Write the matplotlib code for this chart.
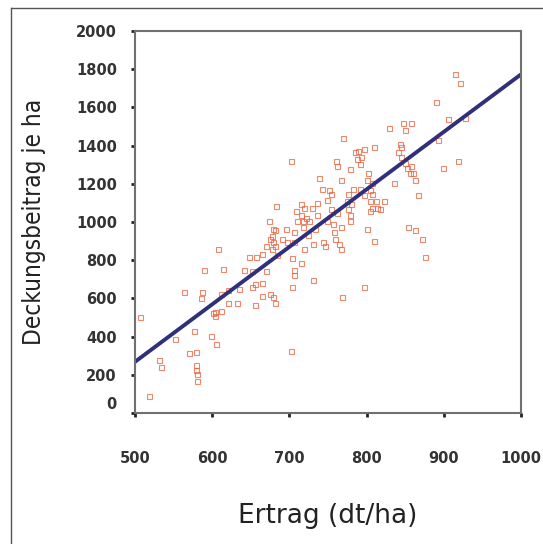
import matplotlib.pyplot as plt
import matplotlib.transforms as mtransforms
from matplotlib.lines import Line2D
import numpy as np

# Ertrag (dt/ha) and Deckungsbeitrag je ha
ertrag = [
    507, 518, 531, 534, 552, 563, 570, 579, 576, 579, 579, 580, 580, 587, 590,
    585, 599, 605, 601, 603, 611, 603, 607, 614, 611, 620, 620, 632, 635, 641,
    648, 655, 652, 652, 657, 664, 670, 665, 673, 675, 677, 679, 677, 681, 679,
    683, 675, 679, 681, 684, 681, 695, 697, 702, 702, 704, 706, 706, 704, 706,
    706, 708, 710, 715, 717, 719, 718, 722, 724, 715, 719, 726, 731, 731, 733,
    738, 736, 742, 744, 746, 749, 749, 751, 754, 756, 758, 760, 762, 759, 764,
    767, 767, 768, 769, 767, 774, 776, 778, 776, 779, 780, 782, 785, 787, 789,
    793, 796, 791, 796, 791, 800, 802, 805, 800, 807, 805, 807, 804, 812, 809,
    809, 814, 818, 823, 829, 836, 841, 843, 845, 847, 850, 852, 854, 858, 858,
    860, 863, 863, 867, 872, 876, 890, 892, 899, 906, 915, 921, 919, 928,
    691, 715, 729, 736, 754, 762, 778, 796, 807, 845, 850, 856, 655, 665, 670,
]
deckung = [
    504, 91, 277, 241, 386, 635, 314, 317, 431, 250, 227, 205, 169, 631, 749,
    600, 404, 359, 522, 531, 535, 508, 858, 754, 625, 644, 577, 577, 649, 749,
    818, 564, 662, 743, 818, 830, 745, 680, 1003, 912, 925, 894, 858, 872, 966,
    1084, 625, 607, 577, 825, 957, 966, 894, 1320, 323, 658, 749, 722, 812, 894,
    948, 1057, 1003, 1039, 1003, 1075, 975, 1021, 930, 785, 858, 1003, 885, 694, 966,
    1229, 1039, 1175, 894, 876, 1003, 1115, 1166, 1148, 988, 948, 1320, 1293, 912, 885,
    858, 975, 607, 1438, 1220, 1111, 1148, 1275, 1066, 1039, 1093, 1175, 1365, 1329, 1374,
    1338, 1383, 1302, 658, 1175, 1220, 1256, 1166, 966, 1148, 1111, 1075, 1057, 1111, 1392,
    898, 1075, 1066, 1111, 1492, 1202, 1365, 1410, 1338, 1519, 1483, 1284, 975, 1519, 1293,
    1256, 957, 1220, 1139, 912, 818, 1628, 1428, 1284, 1537, 1773, 1728, 1320, 1546,
    912, 1093, 1075, 1102, 1066, 1048, 1003, 1139, 1202, 1392, 1311, 1256, 676, 612, 876,
]

# regression line end points
line_x = [500, 1000]
line_y = [268, 1773]

x_ticks = [500, 600, 700, 800, 900, 1000]
y_ticks = [0, 200, 400, 600, 800, 1000, 1200, 1400, 1600, 1800, 2000]

fig = plt.figure(figsize=(5.43, 5.44), dpi=100)
ax = fig.add_axes([0.2486, 0.2408, 0.7109, 0.7022])

ax.plot(ertrag, deckung, 's', markersize=3.6, markerfacecolor='none',
        markeredgecolor='#e8603c', markeredgewidth=0.8, alpha=0.75)
ax.plot(line_x, line_y, color='#2f2f7c', linewidth=2.8)

ax.set_xlim(500, 1000)
ax.set_ylim(0, 2000)
ax.set_xticks(x_ticks)
ax.set_yticks(y_ticks)

tick_font = dict(fontsize=10.5, fontweight='bold', color='#333333')
ax.set_xticklabels([str(t) for t in x_ticks], **tick_font)
ax.set_yticklabels([str(t) for t in y_ticks], **tick_font)
ax.tick_params(axis='x', direction='out', length=3, width=2, pad=24, color='#222222')
ax.tick_params(axis='y', direction='out', length=3, width=2, pad=10, color='#222222')

# the "0" label sits a bit above its tick in the original
zero = ax.get_yticklabels()[0]
zero.set_transform(zero.get_transform() +
                   mtransforms.ScaledTranslation(0, 10 / 100, fig.dpi_scale_trans))

for s in ax.spines.values():
    s.set_color('#707070')
    s.set_linewidth(1.5)

ax.set_ylabel('Deckungsbeitrag je ha', fontsize=17.5, fontstretch='condensed',
              color='#222222')
ax.yaxis.set_label_coords(-0.23, 0.5)
fig.text(328 / 543, 1 - 516 / 544, 'Ertrag (dt/ha)', fontsize=19,
         ha='center', va='center', color='#222222')

# outer frame (left and top edges visible)
fig.add_artist(Line2D([11 / 543, 11 / 543], [0, 1 - 8 / 544], color='#555555', lw=1))
fig.add_artist(Line2D([11 / 543, 1], [1 - 8 / 544, 1 - 8 / 544], color='#555555', lw=1))

fig.savefig('out.png', dpi=100)
